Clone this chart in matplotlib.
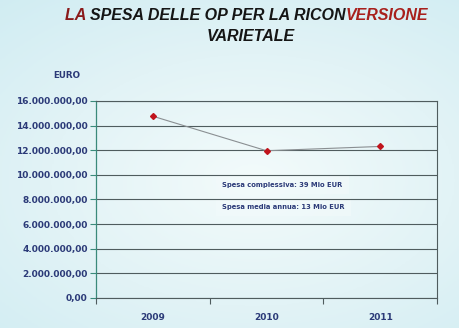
import numpy as np
import matplotlib.pyplot as plt
from matplotlib.ticker import FuncFormatter, FixedLocator

# spesa annua delle OP (EUR)
anni = ['2009', '2010', '2011']
spesa = [14750000, 11950000, 12300000]
y_ticks = [0, 2e6, 4e6, 6e6, 8e6, 10e6, 12e6, 14e6, 16e6]
note = ['Spesa complessiva: 39 Mio EUR', 'Spesa media annua: 13 Mio EUR']

navy = '#2b3a78'
grid_col = '#4f5c5e'

fig = plt.figure(figsize=(4.6, 3.28), dpi=100)
fig.patch.set_facecolor('#e4f3f6')

# sfondo a gradiente (centro piu' chiaro)
bg = fig.add_axes([0, 0, 1, 1], zorder=-10)
yy, xx = np.mgrid[0:1:200j, 0:1:300j]
r = np.sqrt(((xx - 0.55) / 0.8) ** 2 + ((yy - 0.55) / 0.7) ** 2)
bg.imshow(r, cmap=plt.matplotlib.colors.LinearSegmentedColormap.from_list(
    'bg', ['#f3fbfb', '#e2f3f6', '#cfecf2']), extent=[0, 1, 0, 1],
    aspect='auto', vmin=0, vmax=1.1)
bg.axis('off')

ax = fig.add_axes([0.209, 0.0915, 0.741, 0.601])
ax.set_facecolor('none')
x = np.arange(len(anni))
ax.plot(x, spesa, color='#8a8f92', lw=0.8, zorder=3)
ax.plot(x, spesa, ls='none', marker='D', ms=3, color='#c0141c', zorder=4)

ax.set_xlim(-0.5, 2.5)
ax.set_ylim(0, 16e6)
ax.set_yticks(y_ticks)
ax.yaxis.set_major_formatter(FuncFormatter(
    lambda v, p: '{:,.2f}'.format(v).replace(',', 'X').replace('.', ',').replace('X', '.')))
ax.grid(axis='y', color=grid_col, lw=0.8, zorder=1)

ax.xaxis.set_major_locator(FixedLocator([-0.5, 0.5, 1.5, 2.5]))
ax.xaxis.set_minor_locator(FixedLocator(x))
ax.set_xticklabels([], minor=False)
ax.set_xticklabels(anni, minor=True)
ax.tick_params(axis='x', which='minor', length=0, pad=11, labelsize=6.5,
               labelcolor=navy)
ax.tick_params(axis='x', which='major', length=4, color=grid_col)
ax.tick_params(axis='y', length=4, color='#3a8a7a', labelsize=6.5,
               labelcolor=navy, pad=2)
for lab in ax.get_xticklabels(minor=True) + ax.get_yticklabels():
    lab.set_fontweight('bold')

for s in ['top', 'right', 'bottom']:
    ax.spines[s].set_color(grid_col)
    ax.spines[s].set_linewidth(0.8)
ax.spines['left'].set_color('#3a8a7a')
ax.spines['left'].set_linewidth(0.9)

# riquadri con i totali (semi-trasparenti, la griglia resta visibile)
for i, t in enumerate(note):
    ax.text(0.37, 0.575 - i * 0.112, t, transform=ax.transAxes, fontsize=4.9,
            fontweight='bold', color=navy, va='center', ha='left', zorder=0.5,
            bbox=dict(boxstyle='square,pad=0.9', fc='#f2fafb', ec='none',
                      alpha=0.6))

fig.text(0.115, 0.77, 'EURO', fontsize=6.3, fontweight='bold', color=navy,
         ha='left', va='center')

# titolo con parti in rosso
tkw = dict(fontsize=11.5, fontweight='bold', style='italic', va='center',
           family='Liberation Sans')
ty = 0.953
t1 = fig.text(0.142, ty, 'LA ', color='#8a1a1a', **tkw)
t2 = fig.text(0, 0, 'SPESA DELLE OP PER LA RICON', color='#151515', **tkw)
t3 = fig.text(0, 0, 'VERSIONE', color='#a8201c', **tkw)
fig.canvas.draw()
r = fig.canvas.get_renderer()
inv = fig.transFigure.inverted()
b1 = t1.get_window_extent(r)
t2.set_position((inv.transform((b1.x1, 0))[0], ty))
b2 = t2.get_window_extent(r)
t3.set_position((inv.transform((b2.x1, 0))[0], ty))
fig.text(0.545, 0.89, 'VARIETALE', color='#151515', ha='center', **tkw)

fig.savefig('out.png', dpi=100, facecolor=fig.get_facecolor())
